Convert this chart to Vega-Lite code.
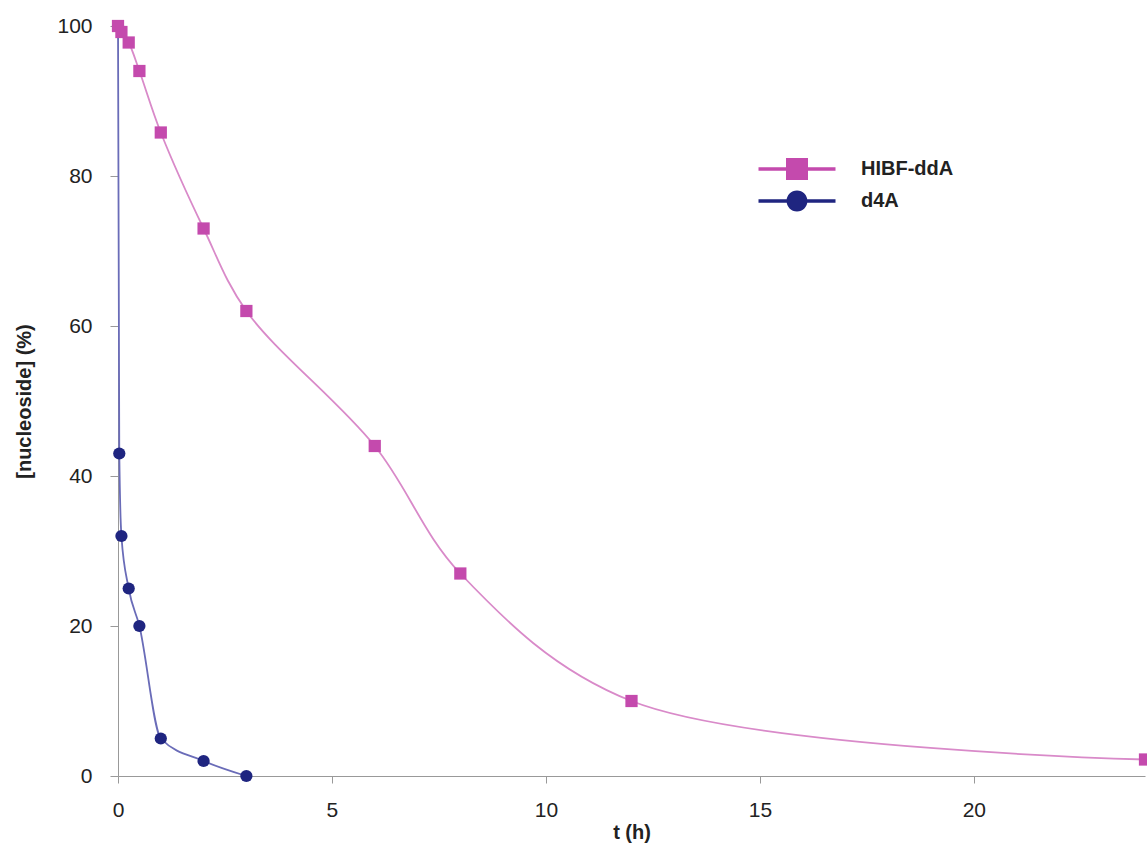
{
  "$schema": "https://vega.github.io/schema/vega-lite/v6.json",
  "width": 1027,
  "height": 750,
  "autosize": "none",
  "padding": {"left": 118, "top": 26, "right": 2, "bottom": 78},
  "background": "white",
  "config": {
    "view": {"stroke": null},
    "font": "Liberation Sans"
  },
  "data": {
    "values": [
      {"series": "d4A", "t": 0, "value": 100},
      {"series": "d4A", "t": 0.03, "value": 43},
      {"series": "d4A", "t": 0.08, "value": 32},
      {"series": "d4A", "t": 0.25, "value": 25},
      {"series": "d4A", "t": 0.5, "value": 20},
      {"series": "d4A", "t": 1, "value": 5},
      {"series": "d4A", "t": 2, "value": 2},
      {"series": "d4A", "t": 3, "value": 0},
      {"series": "HIBF-ddA", "t": 0, "value": 100},
      {"series": "HIBF-ddA", "t": 0.08, "value": 99.2},
      {"series": "HIBF-ddA", "t": 0.25, "value": 97.8},
      {"series": "HIBF-ddA", "t": 0.5, "value": 94},
      {"series": "HIBF-ddA", "t": 1, "value": 85.8},
      {"series": "HIBF-ddA", "t": 2, "value": 73},
      {"series": "HIBF-ddA", "t": 3, "value": 62},
      {"series": "HIBF-ddA", "t": 6, "value": 44},
      {"series": "HIBF-ddA", "t": 8, "value": 27},
      {"series": "HIBF-ddA", "t": 12, "value": 10},
      {"series": "HIBF-ddA", "t": 24, "value": 2.2}
    ]
  },
  "encoding": {
    "x": {
      "field": "t", "type": "quantitative",
      "scale": {"domain": [0, 24], "nice": false, "zero": false},
      "axis": {
        "title": "t (h)", "values": [0, 5, 10, 15, 20],
        "grid": false, "domainColor": "#999999", "tickColor": "#999999",
        "tickSize": 7, "labelPadding": 16, "labelFontSize": 21, "labelColor": "#222222",
        "titleFontSize": 20, "titleFontWeight": "bold", "titleColor": "#222222",
        "titlePadding": 2, "labelFlush": false
      }
    },
    "y": {
      "field": "value", "type": "quantitative",
      "scale": {"domain": [0, 100], "nice": false},
      "axis": {
        "title": "[nucleoside] (%)", "values": [0, 20, 40, 60, 80, 100],
        "grid": false, "domainColor": "#999999", "tickColor": "#999999",
        "tickSize": 8, "labelPadding": 18, "labelFontSize": 21, "labelColor": "#222222",
        "titleFontSize": 20, "titleFontWeight": "bold", "titleColor": "#222222",
        "titlePadding": 22, "labelFlush": false
      }
    }
  },
  "resolve": {"scale": {"fill": "independent", "shape": "independent"}},
  "layer": [
    {
      "transform": [{"filter": "datum.series === 'HIBF-ddA'"}],
      "mark": {"type": "line", "interpolate": "catmull-rom", "strokeWidth": 1.8, "stroke": "#d98ac9"},
      "encoding": {}
    },
    {
      "transform": [{"filter": "datum.series === 'd4A'"}],
      "mark": {"type": "line", "interpolate": "monotone", "strokeWidth": 1.8, "stroke": "#6a6cb8"},
      "encoding": {}
    },
    {
      "mark": {"type": "point", "filled": true, "opacity": 1, "size": 150},
      "encoding": {
        "fill": {
          "field": "series", "type": "nominal",
          "scale": {"domain": ["HIBF-ddA", "d4A"], "range": ["#c44aad", "#1f2580"]},
          "legend": null
        },
        "shape": {
          "field": "series", "type": "nominal",
          "scale": {"domain": ["d4A", "HIBF-ddA"], "range": ["circle", "square"]},
          "legend": null
        }
      }
    },
    {
      "transform": [{"filter": "false"}],
      "mark": {"type": "point", "filled": true, "opacity": 1, "size": 484},
      "encoding": {
        "fill": {
          "field": "series", "type": "nominal",
          "scale": {"domain": ["HIBF-ddA", "d4A"], "range": ["#c44aad", "#1f2580"]},
          "legend": {
            "title": null, "orient": "none", "legendX": 667, "legendY": 131,
            "padding": 0, "symbolSize": 484, "labelOffset": 52, "rowPadding": 4,
            "labelFontSize": 20, "labelFontWeight": "bold", "labelColor": "#222222",
            "symbolOpacity": 1
          }
        },
        "shape": {
          "field": "series", "type": "nominal",
          "scale": {
            "domain": ["HIBF-ddA", "d4A"],
            "range": [
              "M-3.5,-0.17H3.5V0.17H-3.5ZM-1,-1H1V1H-1Z",
              "M-3.5,-0.17H3.5V0.17H-3.5ZM0.95,0A0.95,0.95,0,1,1,-0.95,0A0.95,0.95,0,1,1,0.95,0Z"
            ]
          },
          "legend": {
            "title": null, "orient": "none", "legendX": 667, "legendY": 131,
            "padding": 0, "symbolSize": 484, "labelOffset": 52, "rowPadding": 4,
            "labelFontSize": 20, "labelFontWeight": "bold", "labelColor": "#222222",
            "symbolOpacity": 1
          }
        }
      }
    }
  ]
}
